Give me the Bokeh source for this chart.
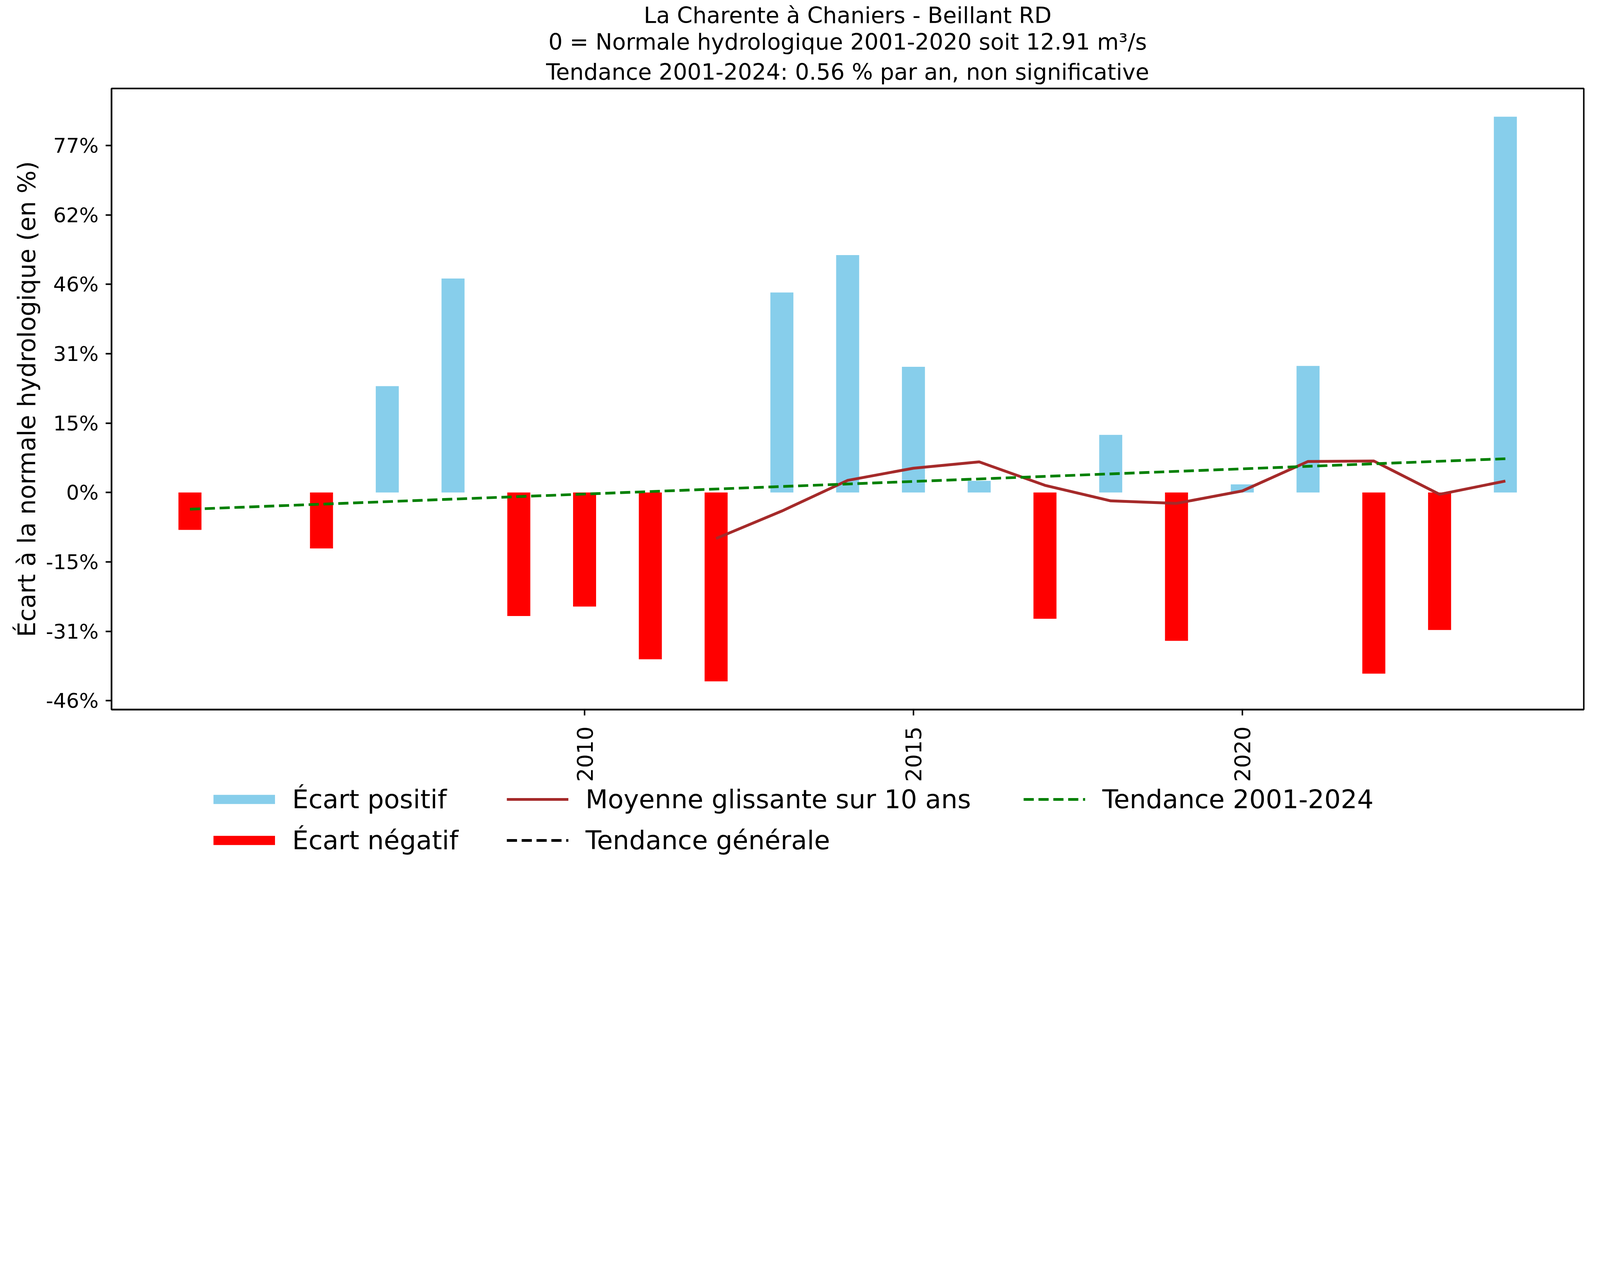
import math
import numpy as np
from bokeh.plotting import figure
from bokeh.layouts import column
from bokeh.models import ColumnDataSource, FixedTicker, Legend, LegendItem, Range1d, Title
from bokeh.embed import file_html
from bokeh.resources import INLINE

# ---------------- data ----------------
years = [2004, 2006, 2007, 2008, 2009, 2010, 2011, 2012, 2013, 2014,
         2015, 2016, 2017, 2018, 2019, 2020, 2021, 2022, 2023, 2024]
ecart = [-8.3, -12.4, 23.6, 47.5, -27.4, -25.3, -37.0, -41.9, 44.4, 52.7,
         27.9, 2.6, -28.0, 12.8, -32.9, 1.8, 28.1, -40.2, -30.5, 83.4]

ma_years = [2012, 2013, 2014, 2015, 2016, 2017, 2018, 2019, 2020, 2021, 2022, 2023, 2024]
ma_values = [-10.2, -4.1, 2.7, 5.4, 6.8, 1.6, -1.85, -2.4, 0.35, 6.9, 7.0, -0.4, 2.55]

trend_years = [2004, 2024]
trend_values = [-3.7, 7.5]

x_ticks = [2010, 2015, 2020]
y_tick_values = [-46.2, -30.8, -15.4, 0, 15.4, 30.8, 46.2, 61.6, 77]
y_tick_labels = ["-46%", "-31%", "-15%", "0%", "15%", "31%", "46%", "62%", "77%"]

title_lines = ["La Charente à Chaniers - Beillant RD",
               "0 = Normale hydrologique 2001-2020 soit 12.91 m³/s",
               "Tendance 2001-2024: 0.56 % par an, non significative"]
y_label = "Écart à la normale hydrologique (en %)"
legend_labels = ["Écart positif", "Écart négatif", "Moyenne glissante sur 10 ans",
                 "Tendance générale", "Tendance 2001-2024"]

# ---------------- styling ----------------
K = 4096 / 5950.0          # page scale (reference pixels -> CSS pixels)
def S(v):
    return v * K

FONT = "DejaVu Sans"
SKY = "#87CEEB"
RED = "#FF0000"
BROWN = "#A52A2A"
GREEN = "#008000"
BAR_W = 0.35
DASH = "%d %d" % (round(S(38)), round(S(17)))

pos_src = ColumnDataSource(dict(x=[y for y, v in zip(years, ecart) if v >= 0],
                                top=[v for v in ecart if v >= 0]))
neg_src = ColumnDataSource(dict(x=[y for y, v in zip(years, ecart) if v < 0],
                                bottom=[v for v in ecart if v < 0]))

# matplotlib-like automatic margins (5 %)
xlo, xhi = min(years) - BAR_W / 2, max(years) + BAR_W / 2
xm = 0.05 * (xhi - xlo)
ylo, yhi = min(min(ecart), 0), max(max(ecart), 0)
ym = 0.05 * (yhi - ylo)

W = 4080
H1 = 2007          # chart part
H2 = 239           # legend strip
FRAME_LEFT = 285
FRAME_RIGHT_BORDER = 26

p = figure(width=W, height=H1, output_backend="svg", toolbar_location=None, title=None,
           x_range=Range1d(xlo - xm, xhi + xm), y_range=Range1d(ylo - ym, yhi + ym),
           min_border_left=FRAME_LEFT, min_border_right=FRAME_RIGHT_BORDER,
           min_border_top=226, min_border_bottom=H1 - 1816)
p.background_fill_color = "white"
p.border_fill_color = "white"
p.outline_line_color = "black"
p.outline_line_width = S(5.5)
p.xgrid.visible = False
p.ygrid.visible = False

p.vbar(x="x", top="top", bottom=0, width=BAR_W, source=pos_src,
       fill_color=SKY, line_color=None)
p.vbar(x="x", top=0, bottom="bottom", width=BAR_W, source=neg_src,
       fill_color=RED, line_color=None)
p.line(ma_years, ma_values, line_color=BROWN, line_width=S(10.5), line_join="round")
p.line(trend_years, trend_values, line_color=GREEN, line_width=S(10), line_dash=DASH)

# axes
for ax in (p.xaxis[0], p.yaxis[0]):
    ax.axis_line_color = "black"
    ax.axis_line_width = S(5.5)
    ax.major_tick_line_color = "black"
    ax.major_tick_line_width = S(5.5)
    ax.major_tick_out = round(S(22))
    ax.major_tick_in = 0
    ax.minor_tick_line_color = None
    ax.major_label_text_font = FONT
    ax.major_label_text_color = "black"

p.xaxis.ticker = FixedTicker(ticks=x_ticks)
p.xaxis.major_label_orientation = math.pi / 2
p.xaxis.major_label_standoff = round(S(40))
p.xaxis.major_label_text_font_size = "%.1fpx" % S(81)

p.yaxis.ticker = FixedTicker(ticks=y_tick_values)
p.yaxis.major_label_overrides = dict(zip(y_tick_values, y_tick_labels))
p.yaxis.major_label_standoff = round(S(26))
p.yaxis.major_label_text_font_size = "%.1fpx" % S(76)
p.yaxis.axis_label = y_label
p.yaxis.axis_label_text_font = FONT
p.yaxis.axis_label_text_font_size = "%.1fpx" % S(90)
p.yaxis.axis_label_text_font_style = "normal"
p.yaxis.axis_label_text_color = "black"
p.yaxis.axis_label_standoff = 9

# title: three centred lines, stacked outward from the frame
for i, line in enumerate(reversed(title_lines)):
    t = Title(text=line, align="center", text_font=FONT,
              text_font_size="%.1fpx" % S(83), text_font_style="normal",
              text_color="black", text_line_height=1.12,
              standoff=19 if i == 0 else 0, offset=0)
    p.add_layout(t, "above")

# ---------------- legend strip (own canvas, legends inside its frame) ----------------
q = figure(width=W, height=H2, output_backend="svg", toolbar_location=None, title=None,
           x_range=Range1d(0, 1), y_range=Range1d(0, 1), x_axis_type=None,
           y_axis_type=None, min_border=0)
q.outline_line_color = None
q.background_fill_color = "white"
q.border_fill_color = "white"

def nan_src():
    return ColumnDataSource(dict(x=np.array([np.nan]), y=np.array([np.nan])))

h_pos = q.line("x", "y", source=nan_src(), line_color=SKY, line_width=S(34))
h_neg = q.line("x", "y", source=nan_src(), line_color=RED, line_width=S(34))
h_ma = q.line("x", "y", source=nan_src(), line_color=BROWN, line_width=S(10.5))
h_gen = q.line("x", "y", source=nan_src(), line_color="black", line_width=S(10),
               line_dash=DASH)
h_trend = q.line("x", "y", source=nan_src(), line_color=GREEN, line_width=S(10),
                 line_dash=DASH)

ITEM_H = 78
SPACING = 27

def make_legend(items, x_ref):
    n = len(items)
    h = n * ITEM_H + (n - 1) * SPACING
    # the strip's frame is aligned with the chart frame (starts at FRAME_LEFT)
    leg = Legend(items=items, location=(round(S(x_ref)) - 8 - FRAME_LEFT, H2 - h),
                 orientation="vertical")
    leg.label_text_font = FONT
    leg.label_text_font_size = "%.1fpx" % S(96)
    leg.label_text_color = "black"
    leg.glyph_width = round(S(230))
    leg.glyph_height = round(S(40))
    leg.label_standoff = round(S(64))
    leg.label_height = ITEM_H
    leg.spacing = SPACING
    leg.padding = 0
    leg.margin = 0
    leg.border_line_color = None
    leg.background_fill_alpha = 0
    return leg

q.add_layout(make_legend([LegendItem(label=legend_labels[0], renderers=[h_pos]),
                          LegendItem(label=legend_labels[1], renderers=[h_neg])], 805))
q.add_layout(make_legend([LegendItem(label=legend_labels[2], renderers=[h_ma]),
                          LegendItem(label=legend_labels[3], renderers=[h_gen])], 1895))
q.add_layout(make_legend([LegendItem(label=legend_labels[4], renderers=[h_trend])], 3817))

page = column(p, q, spacing=0)
open("out.html", "w").write(file_html(page, INLINE))
